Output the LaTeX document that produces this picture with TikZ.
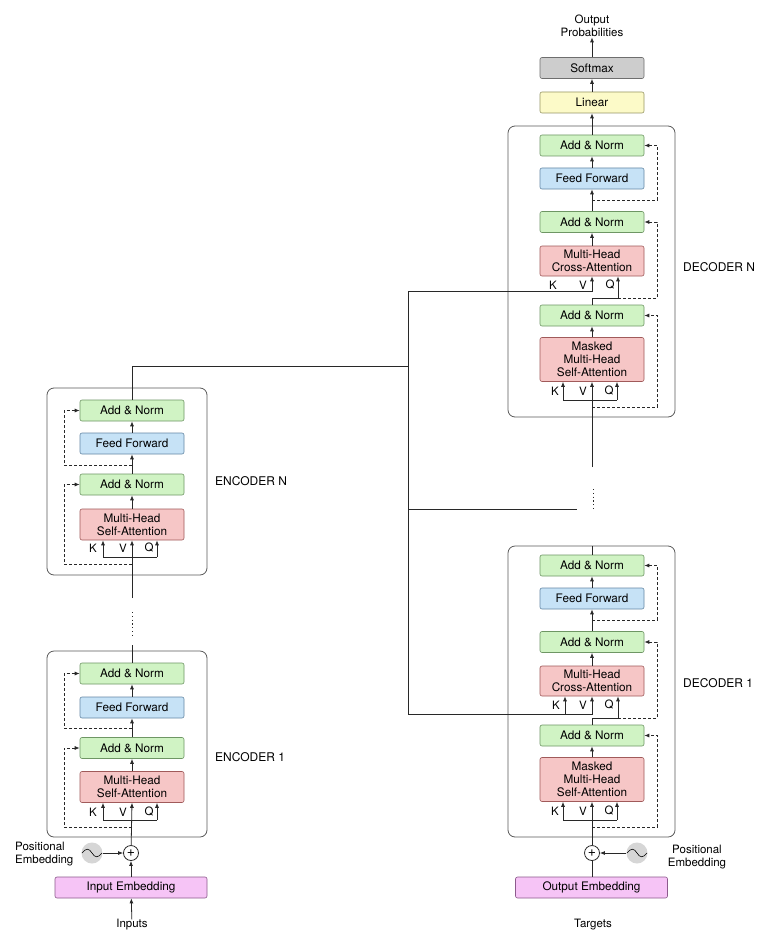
\documentclass[tikz,border=0pt]{standalone}
\usepackage{fontspec}
\setmainfont{TeX Gyre Heros}
\usetikzlibrary{arrows.meta}

\begin{document}
\begin{tikzpicture}[x=1pt,y=-1pt,
  wire/.style={draw=lineColor,line width=0.8pt},
  arr/.style={wire,-{Latex[length=5pt,width=4pt]}},
  res/.style={arr,dash pattern=on 3pt off 2pt},
  blk/.style={rounded corners=2pt,line width=0.6pt,minimum width=104pt,minimum height=21pt,
    inner sep=0pt,align=center,font=\fontsize{11.75}{13}\selectfont},
  addnorm/.style={blk,draw=anDraw,fill=anFill},
  ffwd/.style={blk,draw=ffDraw,fill=ffFill},
  attn/.style={blk,draw=atDraw,fill=atFill},
  linbox/.style={blk,draw=liDraw,fill=liFill},
  softbox/.style={blk,draw=soDraw,fill=soFill},
  embbox/.style={blk,draw=emDraw,fill=emFill,minimum width=152pt},
  layerbox/.style={draw=boxDraw,line width=0.8pt,rounded corners=7pt,minimum width=160pt,inner sep=0pt},
  kvq/.style={inner sep=0pt,font=\fontsize{11.5}{13}\selectfont},
  lbl/.style={inner sep=0pt,font=\fontsize{11.5}{13.5}\selectfont},
  layerlbl/.style={inner sep=0pt,anchor=west,font=\fontsize{12}{14}\selectfont},
  plus/.style={circle,draw=lineColor,line width=0.8pt,fill=white,minimum size=15pt,inner sep=0pt,font=\fontsize{14}{14}\selectfont},
  posenc/.style={circle,fill=peFill,minimum size=21pt,inner sep=0pt},
  dots/.style={draw=lineColor,line width=1pt,dash pattern=on 1.2pt off 2.6pt}]
\definecolor{lineColor}{RGB}{40,40,40}
\definecolor{boxDraw}{RGB}{90,90,90}
\definecolor{anFill}{RGB}{208,243,196}
\definecolor{anDraw}{RGB}{110,150,100}
\definecolor{ffFill}{RGB}{198,226,246}
\definecolor{ffDraw}{RGB}{100,135,165}
\definecolor{atFill}{RGB}{246,198,198}
\definecolor{atDraw}{RGB}{160,90,90}
\definecolor{liFill}{RGB}{252,250,200}
\definecolor{liDraw}{RGB}{150,150,100}
\definecolor{soFill}{RGB}{205,205,205}
\definecolor{soDraw}{RGB}{110,110,110}
\definecolor{emFill}{RGB}{246,196,246}
\definecolor{emDraw}{RGB}{140,90,140}
\definecolor{peFill}{RGB}{214,214,214}
\path[use as bounding box,fill=white] (0,0) rectangle (773,944);

% encoder N
\node[layerbox,minimum height=187pt] (eNbox) at (127,481.5) {};
\node[addnorm] (eNan2) at (132,410.5) {Add \& Norm};
\node[ffwd] (eNff) at (132,443.5) {Feed Forward};
\node[addnorm] (eNan1) at (132,484.5) {Add \& Norm};
\node[attn,minimum height=31pt] (eNatt) at (132,524.5) {Multi-Head\\Self-Attention};
\node[kvq] (eNkl) at (93,548) {K};
\node[kvq] (eNvl) at (123,548) {V};
\node[kvq] (eNql) at (149,548) {Q};
\coordinate (eNk) at (103,557);
\coordinate (eNv) at (132,557);
\coordinate (eNq) at (157,557);
\node[layerlbl] (eNlbl) at (215,481) {ENCODER N};

\draw[wire] (eNk) -- (eNq);
\draw[arr] (eNk) -- (eNk |- eNatt.south);
\draw[arr] (132,598) -- (eNv |- eNatt.south);
\draw[arr] (eNq) -- (eNq |- eNatt.south);
\draw[arr] (eNatt) -- (eNan1);
\draw[arr] (eNan1) -- (eNff);
\draw[arr] (eNff) -- (eNan2);
\draw[res] (132,564) -| (64,484.5) -- (eNan1.west);
\draw[res] (132,465) -| (64,410.5) -- (eNan2.west);
\draw[dots] (132,612) -- (132,636);

% encoder 1
\node[layerbox,minimum height=186pt] (eObox) at (127,744) {};
\node[addnorm] (eOan2) at (132,673.5) {Add \& Norm};
\node[ffwd] (eOff) at (132,707.5) {Feed Forward};
\node[addnorm] (eOan1) at (132,748) {Add \& Norm};
\node[attn,minimum height=31pt] (eOatt) at (132,787) {Multi-Head\\Self-Attention};
\node[kvq] (eOkl) at (93,812) {K};
\node[kvq] (eOvl) at (123,812) {V};
\node[kvq] (eOql) at (149,812) {Q};
\coordinate (eOk) at (103,820);
\coordinate (eOv) at (132,820);
\coordinate (eOq) at (157,820);
\node[layerlbl] (eOlbl) at (215,757) {ENCODER 1};

\draw[wire] (eOk) -- (eOq);
\draw[arr] (eOk) -- (eOk |- eOatt.south);
\draw[arr] (eOq) -- (eOq |- eOatt.south);
\draw[arr] (eOatt) -- (eOan1);
\draw[arr] (eOan1) -- (eOff);
\draw[arr] (eOff) -- (eOan2);
\draw[res] (132,827) -| (64,748) -- (eOan1.west);
\draw[res] (132,728) -| (64,673.5) -- (eOan2.west);
\draw[wire] (eOan2.north) -- (132,645);

% encoder input
\node[embbox] (inemb) at (131,887.5) {Input Embedding};
\node[lbl] (inputs) at (132,925) {Inputs};
\node[plus] (eplus) at (131,853) {+};
\node[posenc] (epos) at (92,853) {};
\node[lbl,anchor=west,align=left] (eposlbl) at (15,854) {Positional\\Embedding};
\draw[line width=0.6pt] (82,853) .. controls (86,848) and (89,848) .. (92,853)
  .. controls (95,858) and (98,858) .. (102,853);
\draw[arr] (epos.east) -- (eplus.west);
\draw[arr] (inputs) -- (inemb);
\draw[arr] (inemb.north -| eplus) -- (eplus);
\draw[arr] (eplus) -- (eOv |- eOatt.south);

% encoder output to decoders
\coordinate (busN) at (408,291);
\coordinate (busM) at (408,509);
\coordinate (busO) at (408,714);
\draw[wire] (eNan2.north) -- (132,366) -- (408,366);
\draw[wire] (busN) -- (busO);
\draw[wire] (busM) -- (577,509);

% decoder N
\node[layerbox,minimum width=167pt,minimum height=291pt] (dNbox) at (591.5,271.5) {};
\node[addnorm] (dNan3) at (592,145.5) {Add \& Norm};
\node[ffwd] (dNff) at (592,178.5) {Feed Forward};
\node[addnorm] (dNan2) at (592,222) {Add \& Norm};
\node[attn,minimum height=30pt] (dNca) at (592,261) {Multi-Head\\Cross-Attention};
\node[addnorm] (dNan1) at (592,315.5) {Add \& Norm};
\node[attn,minimum height=44pt] (dNmask) at (592,359.5) {Masked\\Multi-Head\\Self-Attention};
\node[kvq] (dNckl) at (553,285) {K};
\node[kvq] (dNcvl) at (583,285) {V};
\node[kvq] (dNcql) at (610,285) {Q};
\node[kvq] (dNmkl) at (555,391) {K};
\node[kvq] (dNmvl) at (583,391) {V};
\node[kvq] (dNmql) at (609,391) {Q};
\coordinate (dNcv) at (592,291);
\coordinate (dNcq) at (618,298);
\coordinate (dNmk) at (563,400);
\coordinate (dNmv) at (592,400);
\coordinate (dNmq) at (617,400);
\node[layerlbl] (dNlbl) at (683,267) {DECODER N};

\draw[wire] (dNmk) -- (dNmq);
\draw[arr] (dNmk) -- (dNmk |- dNmask.south);
\draw[arr] (592,467) -- (dNmv |- dNmask.south);
\draw[arr] (dNmq) -- (dNmq |- dNmask.south);
\draw[arr] (dNmask) -- (dNan1);
\draw[arr] (dNan1.north) -- (592,298) -- (dNcq) -- (dNcq |- dNca.south);
\draw[arr] (busN) -- (dNcv) -- (dNcv |- dNca.south);
\draw[arr] (dNca) -- (dNan2);
\draw[arr] (dNan2) -- (dNff);
\draw[arr] (dNff) -- (dNan3);
\draw[res] (592,407) -- (657,407) |- (dNan1.east);
\draw[res] (dNcq) -- (657,298) |- (dNan2.east);
\draw[res] (592,200) -- (657,200) |- (dNan3.east);
\draw[dots] (593,489) -- (593,511);

% output head
\node[linbox] (linear) at (592,102.5) {Linear};
\node[softbox] (softmax) at (592,68) {Softmax};
\node[inner sep=0pt,align=center,font=\fontsize{11.5}{13.5}\selectfont] (outprob) at (592,26) {Output\\Probabilities};
\draw[arr] (dNan3) -- (linear);
\draw[arr] (linear) -- (softmax);
\draw[arr] (softmax) -- (outprob);

% decoder 1
\node[layerbox,minimum width=167pt,minimum height=291pt] (dObox) at (591.5,691.5) {};
\node[addnorm] (dOan3) at (592,565.5) {Add \& Norm};
\node[ffwd] (dOff) at (592,598.5) {Feed Forward};
\node[addnorm] (dOan2) at (592,642) {Add \& Norm};
\node[attn,minimum height=30pt] (dOca) at (592,681) {Multi-Head\\Cross-Attention};
\node[addnorm] (dOan1) at (592,735.5) {Add \& Norm};
\node[attn,minimum height=44pt] (dOmask) at (592,779.5) {Masked\\Multi-Head\\Self-Attention};
\node[kvq] (dOckl) at (556,705) {K};
\node[kvq] (dOcvl) at (583,705) {V};
\node[kvq] (dOcql) at (609,705) {Q};
\node[kvq] (dOmkl) at (555,811) {K};
\node[kvq] (dOmvl) at (583,811) {V};
\node[kvq] (dOmql) at (609,811) {Q};
\coordinate (dOck) at (565,714);
\coordinate (dOcv) at (592,714);
\coordinate (dOcq) at (618,718);
\coordinate (dOmk) at (563,820);
\coordinate (dOmv) at (592,820);
\coordinate (dOmq) at (617,820);
\node[layerlbl] (dOlbl) at (683,683) {DECODER 1};

\draw[wire] (dOmk) -- (dOmq);
\draw[arr] (dOmk) -- (dOmk |- dOmask.south);
\draw[arr] (dOmq) -- (dOmq |- dOmask.south);
\draw[arr] (dOmask) -- (dOan1);
\draw[arr] (dOan1.north) -- (592,718) -- (dOcq) -- (dOcq |- dOca.south);
\draw[arr] (busO) -- (dOcv) -- (dOcv |- dOca.south);
\draw[arr] (dOck) -- (dOck |- dOca.south);
\draw[arr] (dOca) -- (dOan2);
\draw[arr] (dOan2) -- (dOff);
\draw[arr] (dOff) -- (dOan3);
\draw[res] (592,827) -- (657,827) |- (dOan1.east);
\draw[res] (dOcq) -- (657,718) |- (dOan2.east);
\draw[res] (592,620) -- (657,620) |- (dOan3.east);
\draw[wire] (dOan3.north) -- (dObox.north -| dOan3.north);

% decoder input
\node[embbox] (outemb) at (591.5,887.5) {Output Embedding};
\node[lbl] (targets) at (593,925) {Targets};
\node[plus] (dplus) at (592,853) {+};
\node[posenc] (dpos) at (637,853) {};
\node[lbl,align=center] (dposlbl) at (697,857) {Positional\\Embedding};
\draw[line width=0.6pt] (627,853) .. controls (631,848) and (634,848) .. (637,853)
  .. controls (640,858) and (643,858) .. (647,853);
\draw[arr] (dpos.west) -- (dplus.east);
\draw[wire] (outemb.north -| dplus) -- (dplus);
\draw[arr] (dplus) -- (dOmv |- dOmask.south);
\end{tikzpicture}
\end{document}
